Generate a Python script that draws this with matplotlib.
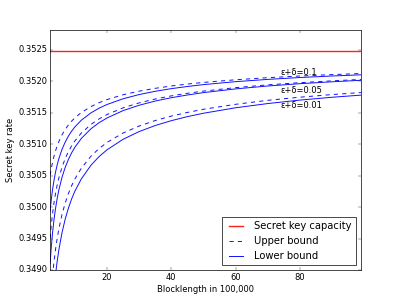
import matplotlib
matplotlib.use("Agg")
import matplotlib.pyplot as plt
from matplotlib.ticker import FormatStrFormatter

plt.style.use("classic")

# Blocklength in units of 100,000
blocklength = [2.3, 2.6, 3, 3.5, 4, 4.5, 5, 6, 7, 8, 9, 10, 12, 15, 17.5, 20, 25, 30, 35,
               40, 45, 50, 60, 70, 80, 90, 99]

capacity = 0.352485

# eps+delta = 0.1
upper_01 = [0.350506, 0.350597, 0.350700, 0.350808, 0.350897, 0.350974, 0.351039, 0.351148,
            0.351235, 0.351306, 0.351366, 0.351418, 0.351502, 0.351597, 0.351658, 0.351708,
            0.351785, 0.351842, 0.351887, 0.351924, 0.351955, 0.351981, 0.352023, 0.352056,
            0.352083, 0.352105, 0.352122]
lower_01 = [0.349936, 0.350090, 0.350258, 0.350425, 0.350560, 0.350671, 0.350766, 0.350917,
            0.351034, 0.351129, 0.351207, 0.351273, 0.351380, 0.351497, 0.351571, 0.351630,
            0.351721, 0.351788, 0.351840, 0.351882, 0.351916, 0.351946, 0.351993, 0.352029,
            0.352059, 0.352083, 0.352102]
# eps+delta = 0.05
upper_005 = [0.349506, 0.349682, 0.349874, 0.350067, 0.350222, 0.350351, 0.350460, 0.350636,
             0.350772, 0.350882, 0.350974, 0.351051, 0.351176, 0.351313, 0.351400, 0.351470,
             0.351577, 0.351656, 0.351717, 0.351767, 0.351808, 0.351843, 0.351898, 0.351942,
             0.351977, 0.352006, 0.352028]
lower_005 = [0.349104, 0.349324, 0.349562, 0.349798, 0.349985, 0.350139, 0.350268, 0.350474,
             0.350632, 0.350758, 0.350863, 0.350950, 0.351090, 0.351244, 0.351340, 0.351416,
             0.351533, 0.351618, 0.351685, 0.351738, 0.351781, 0.351819, 0.351878, 0.351924,
             0.351961, 0.351991, 0.352015]
# eps+delta = 0.01
upper_001 = [0.348415, 0.348637, 0.348883, 0.349132, 0.349335, 0.349504, 0.349649, 0.349883,
             0.350067, 0.350216, 0.350341, 0.350446, 0.350617, 0.350808, 0.350929, 0.351027,
             0.351177, 0.351288, 0.351375, 0.351446, 0.351504, 0.351554, 0.351633, 0.351696,
             0.351746, 0.351788, 0.351820]
lower_001 = [0.347782, 0.348067, 0.348377, 0.348686, 0.348935, 0.349141, 0.349315, 0.349594,
             0.349810, 0.349985, 0.350130, 0.350252, 0.350447, 0.350664, 0.350801, 0.350910,
             0.351077, 0.351200, 0.351296, 0.351373, 0.351437, 0.351491, 0.351578, 0.351645,
             0.351700, 0.351745, 0.351779]

labels = ["ε+δ=0.1", "ε+δ=0.05", "ε+δ=0.01"]
label_x = [74, 74, 74]
label_y = [0.352138, 0.351851, 0.351622]

x_ticks = [20, 40, 60, 80]
y_ticks = [0.3490, 0.3495, 0.3500, 0.3505, 0.3510, 0.3515, 0.3520, 0.3525]

fig = plt.figure(figsize=(8.02, 6), dpi=50)
ax = fig.add_subplot(111)

LW = 1.4
ax.axhline(capacity, color='#ff2020', ls='-', lw=2.0, label="Secret key capacity")
ax.plot(blocklength, upper_01, color='#1010ff', ls='--', lw=LW, label="Upper bound")
ax.plot(blocklength, lower_01, color='#1010ff', ls='-', lw=LW, label="Lower bound")
ax.plot(blocklength, upper_005, color='#1010ff', ls='--', lw=LW)
ax.plot(blocklength, lower_005, color='#1010ff', ls='-', lw=LW)
ax.plot(blocklength, upper_001, color='#1010ff', ls='--', lw=LW)
ax.plot(blocklength, lower_001, color='#1010ff', ls='-', lw=LW)

for t, lx, ly in zip(labels, label_x, label_y):
    ax.text(lx, ly, t, fontsize=12, ha='left', va='center')

ax.set_xlim(2.3, 99)
ax.set_ylim(0.3490, 0.352814)
ax.set_xticks(x_ticks)
ax.set_yticks(y_ticks)
ax.yaxis.set_major_formatter(FormatStrFormatter('%.4f'))
ax.set_xlabel("Blocklength in 100,000")
ax.set_ylabel("Secret key rate")
ax.legend(loc="lower right")

fig.savefig("out.png", dpi=50)
